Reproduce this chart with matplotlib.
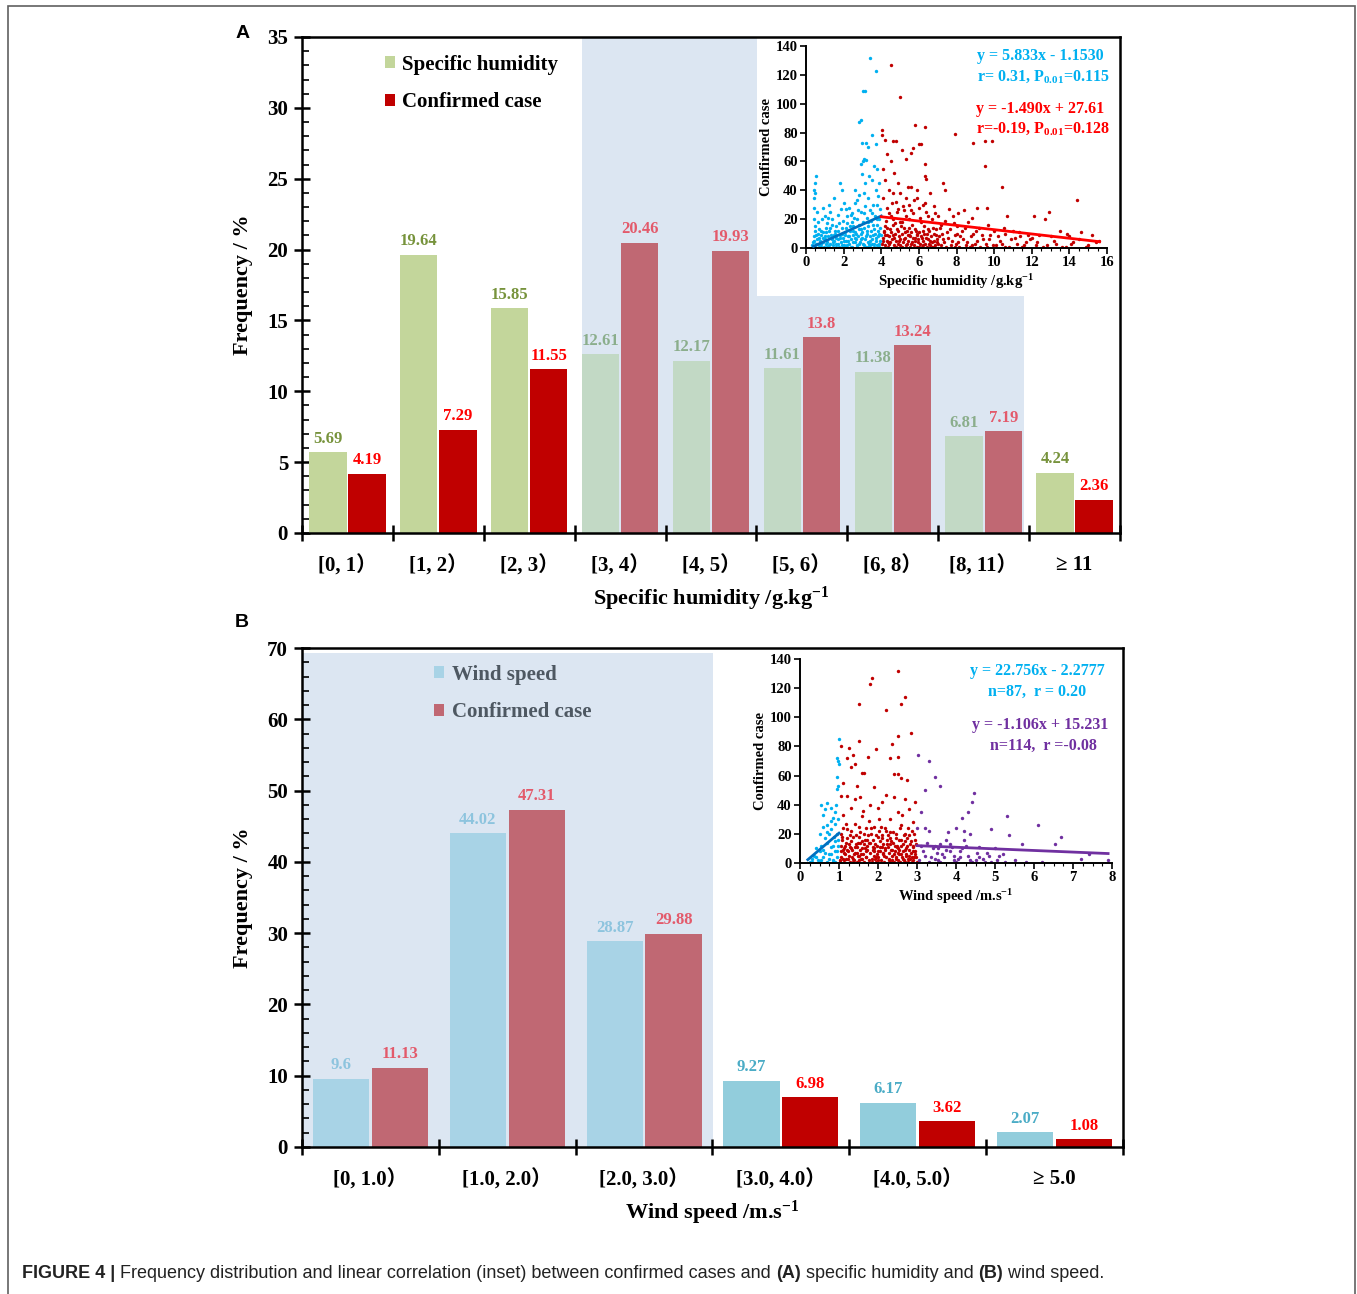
import matplotlib
matplotlib.use('Agg')
import matplotlib.pyplot as plt
from matplotlib.patches import Rectangle
from matplotlib.ticker import MultipleLocator
from matplotlib import font_manager
import numpy as np

plt.rcParams['font.family'] = ['Liberation Serif', 'Noto Sans CJK SC', 'DejaVu Serif']
plt.rcParams['font.weight'] = 'bold'
plt.rcParams['axes.labelweight'] = 'bold'
plt.rcParams['mathtext.fontset'] = 'custom'
plt.rcParams['mathtext.rm'] = 'Liberation Serif:bold'
plt.rcParams['mathtext.bf'] = 'Liberation Serif:bold'
plt.rcParams['mathtext.it'] = 'Liberation Serif:bold'

# ---------------- data, panel A (specific humidity)
humid_cats = ['[0, 1）', '[1, 2）', '[2, 3）', '[3, 4）', '[4, 5）',
              '[5, 6）', '[6, 8）', '[8, 11）', '≥ 11']
humid_freq = [5.69, 19.64, 15.85, 12.61, 12.17, 11.61, 11.38, 6.81, 4.24]
humid_case = [4.19, 7.29, 11.55, 20.46, 19.93, 13.8, 13.24, 7.19, 2.36]
humid_shaded = [False, False, False, True, True, True, True, True, False]

# ---------------- data, panel B (wind speed)
wind_cats = ['[0, 1.0）', '[1.0, 2.0）', '[2.0, 3.0）', '[3.0, 4.0）', '[4.0, 5.0）', '≥ 5.0']
wind_freq = [9.6, 44.02, 28.87, 9.27, 6.17, 2.07]
wind_case = [11.13, 47.31, 29.88, 6.98, 3.62, 1.08]
wind_shaded = [True, True, True, False, False, False]

# ---------------- inset A scatter (specific humidity vs confirmed case)
hum_low_pts = [
    (3.4, 132), (3.7, 123), (3.05, 109), (3.12, 109), (2.8, 87), (2.9, 89), (3.0, 73), (3.2, 73),
    (3.5, 78), (3.3, 70), (3.7, 72), (3.1, 62), (3.2, 61), (2.9, 58), (3.6, 57), (3.8, 55),
    (0.55, 50), (0.45, 40), (0.5, 38), (1.8, 45), (1.9, 40), (3.0, 51), (3.5, 47), (3.9, 45),
    (2.6, 40), (2.8, 37), (3.1, 38), (3.3, 35), (3.7, 40), (1.5, 35), (1.2, 30), (0.9, 28),
    (2.0, 31), (2.3, 28), (2.6, 31), (2.9, 25), (3.5, 24), (3.8, 30), (0.6, 25), (1.0, 22),
    (1.4, 20), (1.7, 23), (2.2, 22), (2.4, 23), (2.7, 20), (3.1, 24), (3.4, 26), (3.9, 20),
    (0.5, 15), (0.8, 12), (1.1, 17), (1.3, 14), (1.6, 15), (1.9, 10), (2.1, 14), (2.5, 12),
    (2.8, 16), (3.0, 11), (3.3, 15), (3.6, 13), (3.9, 10), (0.4, 5), (0.6, 3), (0.7, 7),
    (0.9, 4), (1.0, 8), (1.2, 2), (1.4, 6), (1.5, 9), (1.7, 3), (1.8, 7), (2.0, 5), (2.2, 2),
    (2.3, 8), (2.5, 4), (2.6, 7), (2.8, 3), (2.9, 6), (3.1, 2), (3.2, 8), (3.4, 5), (3.5, 3),
    (3.7, 7), (3.8, 2), (3.95, 5), (0.5, 1), (0.8, 0.5), (1.1, 1), (1.6, 1), (2.1, 1), (2.7, 1),
    (3.3, 1), (3.9, 1), (0.3, 2), (1.9, 2), (2.4, 0.5), (3.6, 0.5), (0.55, 9), (0.65, 18),
    (0.7, 13), (0.85, 20), (1.05, 11), (1.25, 25), (1.35, 9), (1.55, 12), (1.75, 17), (1.95, 19),
    (2.05, 9), (2.15, 27), (2.35, 15), (2.45, 18), (2.55, 21), (2.65, 10), (2.75, 26),
    (2.95, 13), (3.05, 18), (3.15, 29), (3.25, 12), (3.45, 19), (3.55, 9), (3.65, 22),
    (3.75, 16), (3.85, 12), (3.95, 27), (0.45, 35), (1.05, 3), (1.45, 4), (2.25, 5), (3.35, 3),
    (0.35, 4), (0.42, 8), (0.48, 12), (0.52, 3), (0.58, 6), (0.62, 10), (0.68, 2), (0.72, 5),
    (0.78, 9), (0.82, 3), (0.88, 7), (0.92, 11), (0.98, 1), (1.02, 6), (1.08, 14), (1.12, 4),
    (1.18, 8), (1.22, 12), (1.28, 3), (1.32, 7), (1.38, 16), (1.42, 2), (1.48, 5), (1.52, 10),
    (1.58, 7), (1.62, 3), (1.68, 12), (1.72, 6), (1.78, 1), (1.82, 9), (1.88, 4), (1.92, 14),
    (1.98, 7), (2.02, 2), (2.08, 11), (2.12, 5), (2.18, 17), (2.22, 8), (2.28, 3), (2.32, 12),
    (2.38, 6), (2.42, 1), (2.48, 9), (2.52, 15), (2.58, 4), (2.62, 11), (2.68, 6), (2.72, 2),
    (2.78, 8), (2.82, 13), (2.88, 4), (2.92, 10), (2.98, 7), (3.02, 3), (3.08, 14), (3.12, 6),
    (3.18, 1), (3.22, 10), (3.28, 4), (3.32, 18), (3.38, 8), (3.42, 2), (3.48, 12), (3.52, 6),
    (3.58, 16), (3.62, 3), (3.68, 10), (3.72, 5), (3.78, 20), (3.82, 8), (3.88, 3), (3.92, 14),
    (3.98, 9), (0.4, 20), (0.45, 28), (0.5, 45), (1.15, 21), (1.85, 27), (2.45, 24), (3.25, 21),
    (3.55, 30), (3.15, 45), (3.35, 50), (3.05, 60), (3.85, 36), (2.7, 33),
]
hum_high_pts = [
    (4.5, 127), (5.0, 105), (5.8, 85), (6.3, 84), (7.9, 79), (4.05, 82), (4.05, 78), (4.2, 75),
    (4.6, 74), (4.8, 74), (5.1, 68), (5.6, 66), (6.1, 72), (6.0, 72), (8.9, 73), (9.5, 74),
    (9.9, 74), (9.5, 57), (4.3, 65), (4.5, 60), (5.3, 62), (4.1, 55), (4.7, 52), (5.7, 69),
    (6.3, 50), (6.4, 48), (6.3, 58), (4.2, 47), (4.9, 45), (5.4, 42), (5.6, 42), (7.3, 45),
    (7.4, 40), (10.4, 42), (14.4, 33), (6.6, 38), (5.0, 38), (4.4, 40), (5.9, 35), (4.1, 35),
    (4.8, 32), (5.5, 30), (6.0, 28), (6.8, 29), (7.6, 27), (8.4, 26), (9.1, 28), (9.6, 28),
    (12.9, 25), (4.3, 28), (5.2, 26), (6.4, 25), (7.0, 22), (7.8, 22), (8.8, 21), (10.7, 22),
    (12.1, 22), (12.7, 20), (4.6, 20), (5.3, 22), (6.1, 18), (6.7, 20), (7.2, 16), (8.0, 15),
    (8.6, 18), (9.2, 14), (10.0, 12), (10.6, 10), (11.4, 8), (11.9, 6), (12.4, 9), (13.0, 8),
    (13.5, 12), (14.0, 8), (14.6, 11), (15.2, 9), (15.6, 5), (4.2, 15), (4.9, 12), (5.5, 14),
    (5.9, 10), (6.5, 13), (6.9, 9), (7.5, 11), (8.2, 8), (8.9, 10), (9.4, 6), (9.8, 9),
    (10.3, 5), (10.9, 6), (11.2, 3), (11.7, 4), (12.2, 2), (13.3, 3), (14.2, 4), (4.1, 5),
    (4.4, 3), (4.7, 7), (5.0, 2), (5.2, 6), (5.6, 3), (5.8, 7), (6.2, 2), (6.6, 5), (7.0, 3),
    (7.3, 6), (7.7, 2), (8.1, 4), (8.5, 2), (9.0, 3), (9.6, 1), (10.1, 2), (10.8, 1), (11.5, 1),
    (12.6, 1), (13.8, 1), (14.9, 1), (4.3, 9), (4.8, 1), (5.4, 9), (6.0, 1), (6.8, 1), (7.9, 1),
    (8.7, 1), (4.5, 22), (5.1, 18), (5.7, 24), (6.2, 12), (7.1, 14), (7.9, 9), (8.3, 12),
    (9.1, 5), (9.7, 16), (10.5, 14), (11.0, 12), (11.3, 11), (12.0, 7), (13.9, 10),
    (4.15, 11), (4.25, 19), (4.35, 4), (4.45, 13), (4.55, 31), (4.65, 9), (4.75, 17),
    (4.85, 25), (4.95, 5), (5.05, 15), (5.15, 29), (5.25, 11), (5.35, 3), (5.45, 20),
    (5.55, 8), (5.65, 16), (5.75, 33), (5.85, 12), (5.95, 4), (6.05, 21), (6.15, 7),
    (6.25, 15), (6.35, 31), (6.45, 10), (6.55, 3), (6.75, 14), (6.85, 24), (6.95, 6),
    (4.02, 3), (4.08, 7), (4.12, 12), (4.18, 2), (4.22, 9), (4.28, 5), (4.32, 14), (4.38, 1),
    (4.42, 8), (4.48, 4), (4.52, 11), (4.58, 6), (4.62, 16), (4.68, 2), (4.72, 10), (4.78, 5),
    (4.82, 13), (4.88, 3), (4.92, 8), (4.98, 18), (5.02, 6), (5.08, 1), (5.12, 10), (5.18, 4),
    (5.22, 14), (5.28, 7), (5.32, 2), (5.38, 12), (5.42, 5), (5.48, 9), (5.52, 1), (5.58, 11),
    (5.62, 4), (5.68, 7), (5.72, 2), (5.78, 13), (5.82, 5), (5.88, 9), (5.92, 1), (5.98, 6),
    (6.02, 11), (6.08, 3), (6.12, 8), (6.18, 1), (6.22, 5), (6.28, 10), (6.32, 3), (6.38, 7),
    (6.42, 1), (6.48, 6), (6.52, 12), (6.58, 2), (6.62, 8), (6.68, 4), (6.72, 1), (6.78, 10),
    (6.82, 5), (6.88, 2), (6.92, 13), (6.98, 4), (7.05, 8), (7.15, 2), (7.25, 10), (7.35, 4),
    (7.45, 1), (7.55, 7), (7.65, 13), (7.75, 5), (7.85, 17), (7.95, 3), (8.05, 10), (8.15, 1),
    (8.35, 6), (8.45, 14), (8.55, 4), (8.75, 8), (8.85, 2), (9.05, 12), (9.25, 1), (9.35, 9),
    (9.55, 3), (9.75, 6), (9.95, 2), (10.2, 8), (10.4, 3), (10.6, 1), (11.1, 7), (11.6, 2),
    (11.8, 9), (12.3, 4), (12.8, 2), (13.2, 5), (13.6, 1), (14.1, 3), (14.5, 6), (15.0, 2),
    (15.4, 4), (4.6, 38), (4.9, 27), (5.3, 35), (5.9, 40), (6.2, 30), (4.4, 24), (5.6, 26),
    (6.5, 22), (7.4, 19), (8.1, 24),
]
hum_low_fit = (5.833, -1.1530, 0.4, 4.0)
hum_high_fit = (-1.490, 27.61, 4.0, 15.6)

# ---------------- inset B scatter (wind speed vs confirmed case)
wind_low_pts = [
    (1.0, 85), (0.95, 72), (0.97, 70), (0.99, 68), (0.96, 59), (0.98, 53), (0.95, 51),
    (0.55, 40), (0.7, 41), (0.65, 37), (0.8, 38), (0.9, 35), (0.85, 31), (0.6, 33), (0.5, 20),
    (0.6, 25), (0.7, 26), (0.75, 20), (0.65, 17), (0.8, 23), (0.9, 27), (0.95, 20), (0.4, 10),
    (0.5, 8), (0.55, 12), (0.7, 14), (0.8, 11), (0.9, 15), (0.3, 3), (0.35, 5), (0.45, 2),
    (0.6, 4), (0.65, 7), (0.75, 3), (0.8, 6), (0.85, 2), (0.9, 8), (0.95, 4), (0.98, 12),
    (0.5, 0.5), (0.7, 1), (0.85, 0.5), (0.25, 1), (0.92, 40), (0.88, 18),
    (0.3, 1), (0.4, 4), (0.55, 2), (0.6, 9), (0.75, 6), (0.85, 12), (0.95, 8), (0.9, 1),
    (0.98, 16), (0.7, 21), (0.8, 29), (0.97, 30),
]
wind_mid_pts = [
    (2.5, 132), (1.85, 127), (1.8, 123), (2.6, 109), (1.5, 109), (2.7, 114), (2.2, 105),
    (2.85, 89), (2.5, 87), (1.5, 84), (2.35, 82), (1.05, 80), (1.25, 79), (1.95, 78),
    (1.35, 74), (1.2, 72), (1.4, 68), (1.75, 73), (2.3, 72), (2.5, 73), (1.3, 66), (1.6, 62),
    (1.65, 62), (2.4, 61), (2.5, 61), (2.75, 57), (2.6, 58), (1.1, 55), (1.45, 53), (1.2, 46),
    (1.05, 46), (1.9, 52), (2.1, 42), (2.2, 47), (1.55, 45), (2.95, 42), (2.4, 45), (2.7, 44),
    (1.3, 38), (1.8, 40), (2.0, 38), (2.5, 35), (2.8, 37), (1.1, 33), (1.6, 32), (2.3, 30),
    (2.9, 28), (1.4, 27), (1.9, 25), (2.6, 26), (1.2, 23), (1.7, 24), (2.2, 22), (2.7, 20),
    (1.05, 20), (1.5, 18), (2.0, 18), (2.45, 17), (2.85, 15), (1.3, 15), (1.8, 14), (2.3, 13),
    (2.75, 12), (1.15, 12), (1.6, 10), (2.1, 11), (2.55, 9), (2.95, 8), (1.05, 8), (1.45, 7),
    (1.9, 8), (2.4, 6), (2.8, 5), (1.25, 5), (1.7, 4), (2.15, 5), (2.65, 3), (1.1, 3),
    (1.5, 2), (2.0, 2), (2.5, 2), (2.9, 2), (1.35, 1), (1.85, 1), (2.3, 1), (2.7, 1),
    (1.02, 2), (1.2, 9), (1.65, 13), (2.05, 15), (2.35, 9), (2.6, 16), (2.9, 11), (1.55, 21),
    (2.25, 19), (1.95, 4), (1.4, 11), (2.45, 4), (2.8, 19), (1.08, 16), (1.18, 27), (1.28, 19),
    (1.38, 6), (1.48, 14), (1.58, 3), (1.68, 8), (1.78, 29), (1.88, 11), (1.98, 6), (2.08, 25),
    (2.18, 9), (2.28, 3), (2.38, 21), (2.48, 12), (2.58, 6), (2.68, 9), (2.78, 24), (2.88, 4),
    (2.98, 13), (1.12, 7), (1.32, 10), (1.52, 5), (1.72, 16), (1.92, 3), (2.12, 7), (2.32, 17),
    (2.52, 10), (2.72, 6), (2.92, 20), (1.62, 36), (2.02, 30), (2.62, 33), (1.42, 44),
    (1.03, 1), (1.06, 4), (1.09, 9), (1.13, 2), (1.16, 6), (1.19, 14), (1.22, 3), (1.24, 8),
    (1.27, 1), (1.29, 11), (1.33, 4), (1.36, 18), (1.39, 2), (1.41, 7), (1.44, 13), (1.47, 1),
    (1.49, 5), (1.53, 9), (1.56, 3), (1.59, 15), (1.61, 6), (1.64, 1), (1.67, 10), (1.69, 4),
    (1.73, 12), (1.76, 2), (1.79, 7), (1.81, 20), (1.84, 3), (1.87, 9), (1.89, 5), (1.93, 13),
    (1.96, 1), (1.99, 8), (2.01, 4), (2.04, 11), (2.07, 2), (2.09, 17), (2.13, 6), (2.16, 1),
    (2.19, 10), (2.21, 4), (2.24, 13), (2.27, 7), (2.29, 2), (2.33, 9), (2.36, 5), (2.39, 14),
    (2.41, 1), (2.44, 8), (2.47, 3), (2.49, 11), (2.53, 6), (2.56, 1), (2.59, 12), (2.61, 4),
    (2.64, 8), (2.67, 2), (2.69, 15), (2.73, 5), (2.76, 1), (2.79, 9), (2.81, 3), (2.84, 7),
    (2.87, 1), (2.89, 12), (2.93, 4), (2.96, 6), (2.99, 1), (1.04, 12), (1.07, 18), (1.11, 24),
    (1.14, 10), (1.17, 3), (1.21, 17), (1.26, 13), (1.31, 22), (1.34, 9), (1.37, 3), (1.43, 19),
    (1.46, 11), (1.51, 25), (1.54, 14), (1.57, 6), (1.63, 20), (1.66, 16), (1.71, 9),
    (1.74, 19), (1.77, 14), (1.83, 24), (1.86, 16), (1.91, 10), (1.94, 19), (1.97, 12),
    (2.03, 22), (2.06, 8), (2.11, 19), (2.14, 13), (2.17, 24), (2.23, 16), (2.26, 11),
    (2.31, 21), (2.34, 15), (2.37, 2), (2.43, 12), (2.46, 20), (2.51, 7), (2.54, 16),
    (2.57, 24), (2.63, 13), (2.66, 19), (2.71, 10), (2.74, 17), (2.77, 3), (2.83, 13),
    (2.86, 22), (2.91, 8), (2.94, 16), (2.97, 4),
]
wind_high_pts = [
    (3.02, 74), (3.3, 70), (3.45, 59), (3.6, 53), (3.2, 50), (4.45, 48), (4.4, 42), (4.3, 35),
    (4.15, 31), (5.3, 32), (6.1, 26), (6.7, 18), (3.1, 35), (3.0, 24), (3.2, 24), (3.3, 22),
    (3.8, 21), (4.0, 24), (4.2, 22), (4.35, 20), (4.9, 23), (5.35, 19), (5.7, 13), (6.55, 13),
    (3.1, 12), (3.4, 10), (3.6, 13), (3.9, 11), (4.1, 8), (4.25, 12), (4.6, 11), (4.8, 7),
    (5.0, 10), (5.2, 6), (3.2, 5), (3.5, 7), (3.7, 4), (3.85, 8), (4.05, 3), (4.3, 5),
    (4.5, 2), (4.7, 3), (4.9, 1), (5.1, 5), (5.5, 2), (5.8, 1), (6.2, 1), (7.2, 3), (7.4, 6),
    (7.9, 2), (3.05, 2), (3.3, 1), (3.6, 1), (4.0, 1), (4.4, 1), (4.2, 16), (3.75, 16),
    (3.15, 8), (3.25, 14), (3.45, 3), (3.55, 10), (3.65, 6), (3.95, 5), (4.15, 10), (4.55, 7),
    (3.35, 4), (3.55, 2), (3.75, 9), (3.95, 2), (4.1, 4), (4.35, 2), (4.6, 4), (4.75, 1),
    (5.05, 2), (5.25, 1), (4.85, 5), (3.45, 12), (3.85, 13),
]
wind_low_fit = (22.756, -2.2777, 0.2, 1.0)
wind_high_fit = (-1.106, 15.231, 3.0, 7.9)

# ---------------- colours
shade_col = '#DCE6F2'
green, green_sh = '#C3D69B', '#C2D9C5'
green_lab, green_lab_sh = '#77933C', '#8BAE8C'
red, red_sh = '#C00000', '#C06873'
red_lab, red_lab_sh = '#FF0000', '#E35A6B'
blue, blue_sh = '#92CDDC', '#A8D3E6'
blue_lab, blue_lab_sh = '#4BACC6', '#8DC4DE'
sc_blue, sc_red, sc_purple = '#00B0F0', '#C00000', '#7030A0'
W, H = 1357, 1294

fig = plt.figure(figsize=(13.57, 12.94), dpi=100)


def bar_panel(ax, cats, vals1, vals2, shaded, c1, c2, l1, l2, names, ymax, ymaj, ymin):
    n = len(cats)
    x = np.arange(n)
    w, off = 0.41, 0.215
    col1 = [c1[1] if s else c1[0] for s in shaded]
    col2 = [c2[1] if s else c2[0] for s in shaded]
    lc1 = [l1[1] if s else l1[0] for s in shaded]
    lc2 = [l2[1] if s else l2[0] for s in shaded]
    b1 = ax.bar(x - off, vals1, w, color=col1, zorder=2, label=names[0])
    b2 = ax.bar(x + off, vals2, w, color=col2, zorder=2, label=names[1])
    for xs, vs, cs in ((x - off, vals1, lc1), (x + off, vals2, lc2)):
        for xi, v, c in zip(xs, vs, cs):
            ax.annotate(f'{v:g}', (xi, v), xytext=(0, 4), textcoords='offset points',
                        ha='center', va='bottom', fontsize=12, color=c, zorder=4)
    ax.set_xlim(-0.5, n - 0.5)
    ax.set_ylim(0, ymax)
    ax.set_xticks(np.arange(-0.5, n, 1.0))
    ax.set_xticklabels([])
    ax.set_xticks(x, cats, minor=True)
    ax.tick_params(axis='x', which='major', direction='inout', length=11, width=1.8)
    ax.tick_params(axis='x', which='minor', length=0, pad=16, labelsize=15)
    ax.yaxis.set_major_locator(MultipleLocator(ymaj))
    ax.yaxis.set_minor_locator(MultipleLocator(ymin))
    ax.tick_params(axis='y', which='major', direction='inout', length=12, width=1.8,
                   labelsize=15, pad=4)
    ax.tick_params(axis='y', which='minor', direction='in', length=5, width=1.2)
    for sp in ax.spines.values():
        sp.set_linewidth(1.8)
    ax.set_ylabel('Frequency / %', fontsize=16, labelpad=10)
    return b1, b2


def scatter_inset(ax, groups, fits, xmax, xmaj, xlabel):
    for pts, col in groups:
        p = np.array(pts)
        ax.scatter(p[:, 0], p[:, 1], s=6, color=col, linewidths=0, zorder=2)
    for (k, b, x0, x1), col in fits:
        xx = np.array([x0, x1])
        ax.plot(xx, k * xx + b, color=col, lw=2, zorder=3)
    ax.set_xlim(0, xmax)
    ax.set_ylim(0, 140)
    ax.xaxis.set_major_locator(MultipleLocator(xmaj))
    ax.xaxis.set_minor_locator(MultipleLocator(xmaj / 4))
    ax.yaxis.set_major_locator(MultipleLocator(20))
    ax.patch.set_alpha(0)
    for s in ('top', 'right'):
        ax.spines[s].set_visible(False)
    for s in ('left', 'bottom'):
        ax.spines[s].set_linewidth(1.4)
    ax.tick_params(which='major', direction='out', length=4, width=1.2, labelsize=10.5, pad=2)
    ax.tick_params(which='minor', direction='out', length=2, width=0.8)
    ax.set_ylabel('Confirmed case', fontsize=10.5, labelpad=2)
    ax.set_xlabel(xlabel, fontsize=10.5, labelpad=2)


# ================= panel A
axA = fig.add_axes([302 / W, 1 - 533 / H, 818 / W, 496 / H])
axA.add_patch(Rectangle((2.58, 0), 7.44 - 2.58, 35, fc=shade_col, ec='none', zorder=0.5))
axA.add_patch(Rectangle((4.505, 16.7), 8.5 - 4.505, 35 - 16.7, fc='white', ec='none', zorder=1))
hA1, hA2 = bar_panel(axA, humid_cats, humid_freq, humid_case, humid_shaded,
                     (green, green_sh), (red, red_sh), (green_lab, green_lab_sh),
                     (red_lab, red_lab_sh), ('Specific humidity', 'Confirmed case'), 35, 5, 1)
axA.set_xlabel('Specific humidity /g.kg$^{-1}$', fontsize=16, labelpad=6)
axA.legend(handles=[hA1, hA2], loc='upper left', bbox_to_anchor=(0.078, 1.002), frameon=False,
           fontsize=15, handlelength=0.5, handleheight=0.5, handletextpad=0.35, labelspacing=0.85)

insA = fig.add_axes([806 / W, 1 - 248 / H, 301 / W, 202 / H])
scatter_inset(insA, [(hum_high_pts, sc_red), (hum_low_pts, sc_blue)],
              [(hum_low_fit, '#0070C0'), (hum_high_fit, '#FF0000')], 16, 2,
              'Specific humidity /g.kg$^{-1}$')
insA.text(0.99, 0.95, 'y = 5.833x - 1.1530', transform=insA.transAxes, ha='right', va='center',
          fontsize=11.5, color=sc_blue)
insA.text(1.01, 0.85, 'r= 0.31, P$_{0.01}$=0.115', transform=insA.transAxes, ha='right',
          va='center', fontsize=11.5, color=sc_blue)
insA.text(0.99, 0.69, 'y = -1.490x + 27.61', transform=insA.transAxes, ha='right', va='center',
          fontsize=11.5, color='#FF0000')
insA.text(1.01, 0.59, 'r=-0.19, P$_{0.01}$=0.128', transform=insA.transAxes, ha='right',
          va='center', fontsize=11.5, color='#FF0000')

# ================= panel B
axB = fig.add_axes([302 / W, 1 - 1147 / H, 821 / W, 499 / H])
axB.add_patch(Rectangle((-0.5, 0), 3.0, 69.3, fc=shade_col, ec='none', zorder=0.5))
hB1, hB2 = bar_panel(axB, wind_cats, wind_freq, wind_case, wind_shaded,
                     (blue, blue_sh), (red, red_sh), (blue_lab, blue_lab_sh),
                     (red_lab, red_lab_sh), ('Wind speed', 'Confirmed case'), 70, 10, 2)
axB.set_xlabel('Wind speed /m.s$^{-1}$', fontsize=16, labelpad=6)
axB.legend(handles=[hB1, hB2], loc='upper left', bbox_to_anchor=(0.138, 1.004), frameon=False,
           fontsize=15, handlelength=0.5, handleheight=0.5, handletextpad=0.35, labelspacing=0.85,
           labelcolor='#4e5862')

insB = fig.add_axes([800 / W, 1 - 863 / H, 312 / W, 204 / H])
scatter_inset(insB, [(wind_mid_pts, sc_red), (wind_low_pts, sc_blue), (wind_high_pts, sc_purple)],
              [(wind_low_fit, '#0070C0'), (wind_high_fit, sc_purple)], 8, 1,
              'Wind speed /m.s$^{-1}$')
insB.text(0.76, 0.94, 'y = 22.756x - 2.2777', transform=insB.transAxes, ha='center', va='center',
          fontsize=11.5, color=sc_blue)
insB.text(0.76, 0.84, 'n=87,  r = 0.20', transform=insB.transAxes, ha='center', va='center',
          fontsize=11.5, color=sc_blue)
insB.text(0.77, 0.675, 'y = -1.106x + 15.231', transform=insB.transAxes, ha='center', va='center',
          fontsize=11.5, color=sc_purple)
insB.text(0.78, 0.575, 'n=114,  r =-0.08', transform=insB.transAxes, ha='center', va='center',
          fontsize=11.5, color=sc_purple)

# ================= frame, panel letters, caption
fig.patches.append(Rectangle((7.5 / W, -0.01), (1355 - 7.5) / W, 1 - 6 / H + 0.01,
                             transform=fig.transFigure, fill=False, ec='#606060', lw=1.2))
for letter, px, py in (('A', 243, 34), ('B', 242, 623)):
    fig.text(px / W, 1 - py / H, letter, family='Liberation Sans', fontsize=14, weight='bold',
             ha='center', va='center')

names = {f.name for f in font_manager.fontManager.ttflist}
if 'Liberation Sans Narrow' in names:
    cap_family, cap_size = 'Liberation Sans Narrow', 15.5
else:
    cap_family, cap_size = 'Liberation Sans', 12.95
segs = [('FIGURE 4 | ', 'bold'),
        ('Frequency distribution and linear correlation (inset) between confirmed cases and ', 'normal'),
        ('(A)', 'bold'), (' specific humidity and ', 'normal'), ('(B)', 'bold'),
        (' wind speed.', 'normal')]
fig.canvas.draw()
renderer = fig.canvas.get_renderer()
xpos = 22
for s, wt in segs:
    t = fig.text(xpos / W, 1 - 1274 / H, s, family=cap_family, fontsize=cap_size, weight=wt,
                 ha='left', va='center', color='#222222')
    xpos = t.get_window_extent(renderer).x1

fig.savefig('out.png', dpi=100)
